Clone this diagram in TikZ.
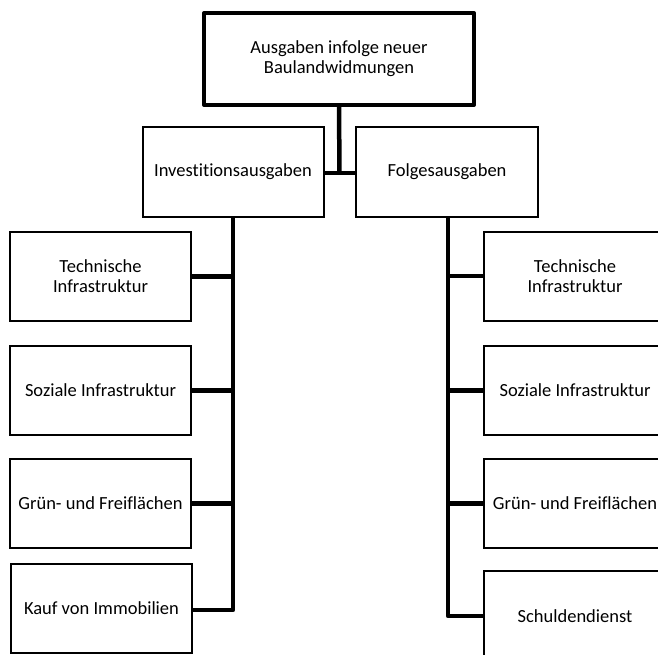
\documentclass[tikz,border=0pt]{standalone}
\usepackage{fontspec}
\setmainfont{Carlito}[Ligatures=NoCommon]
\begin{document}
\begin{tikzpicture}[x=1pt,y=-1pt,
  box/.style={draw, line width=2pt, align=center, inner sep=0pt,
    font=\fontsize{18.5}{19.8}\selectfont},
  topbox/.style={box, line width=4pt, line join=round},
  conn/.style={line width=4.5pt, line join=round}]
\useasboundingbox (0,0) rectangle (658,655);
\clip (0,0) rectangle (658,655);
% top
\node[topbox, minimum width=270, minimum height=92] (top) at (339,59)
  {Ausgaben infolge neuer\\Baulandwidmungen};
% second level
\node[box, minimum width=181, minimum height=90] (inv) at (233,172) {Investitionsausgaben};
\node[box, minimum width=182, minimum height=90] (fol) at (447,172) {Folgesausgaben};
% left column
\node[box, minimum width=181, minimum height=89] (lt) at (100.5,276.5) {Technische\\Infrastruktur};
\node[box, minimum width=181, minimum height=89] (ls) at (100.5,390.5) {Soziale Infrastruktur};
\node[box, minimum width=181, minimum height=89] (lg) at (100.5,503.5) {Grün- und Freiflächen};
\node[box, minimum width=181, minimum height=89] (lk) at (101.5,608.5) {Kauf von Immobilien};
% right column
\node[box, minimum width=182, minimum height=89] (rt) at (575,276) {Technische\\Infrastruktur};
\node[box, minimum width=182, minimum height=89] (rs) at (575,390.5) {Soziale Infrastruktur};
\node[box, minimum width=182, minimum height=89] (rg) at (575,503.5) {Grün- und Freiflächen};
\node[box, minimum width=182, minimum height=90] (rd) at (575,616) {Schuldendienst};
% spine coordinates
\coordinate (hub) at (339.5,173);
\coordinate (lsp) at (233,0);
\coordinate (rsp) at (448,0);
\coordinate (lend) at (233,610);
\coordinate (rend) at (448,616);
% connectors
\draw[conn] (top.south) -- (hub);
\draw[conn] (inv.east |- hub) -- (fol.west |- hub);
\draw[conn] (inv.south -| lsp) -- (lend) -- (lend -| lk.east);
\draw[conn] (lt.east) -- (lt.east -| lsp);
\draw[conn] (ls.east) -- (ls.east -| lsp);
\draw[conn] (lg.east) -- (lg.east -| lsp);
\draw[conn] (fol.south -| rsp) -- (rend) -- (rend -| rd.west);
\draw[conn] (rt.west) -- (rt.west -| rsp);
\draw[conn] (rs.west) -- (rs.west -| rsp);
\draw[conn] (rg.west) -- (rg.west -| rsp);
\end{tikzpicture}
\end{document}
